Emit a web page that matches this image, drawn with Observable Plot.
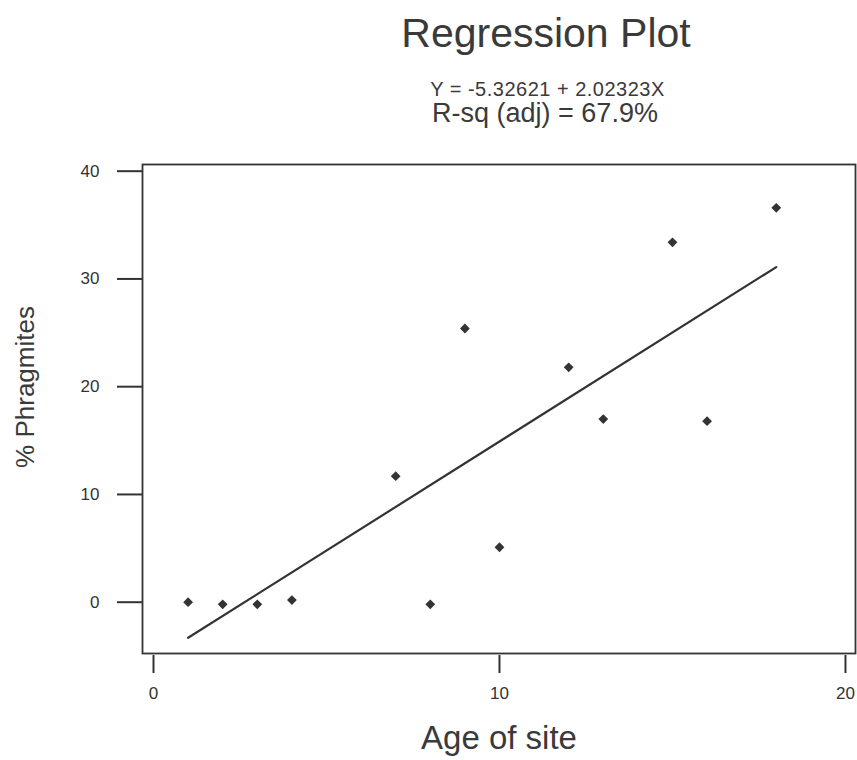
<!DOCTYPE html>
<html>
<head>
<meta charset="utf-8">
<script src="https://cdn.jsdelivr.net/npm/d3@7"></script>
<script src="https://cdn.jsdelivr.net/npm/@observablehq/plot@0.6"></script>
<style>
  html, body { margin: 0; padding: 0; background: #fff; }
  #wrap { position: relative; width: 857px; height: 760px; font-family: "Liberation Sans", Arial, Helvetica, sans-serif; color: #3a3a3a; overflow: hidden; }
  .t { position: absolute; left: 0; width: 1092px; text-align: center; line-height: 1; white-space: nowrap; }
  #chart { position: absolute; left: 0; top: 140px; }
</style>
</head>
<body>
<div id="wrap">
  <div class="t" style="top:13px; font-size:41px; width:1092px;">Regression Plot</div>
  <div class="t" style="top:79px; font-size:20px; width:1095px; letter-spacing:0.5px;">Y = -5.32621 + 2.02323X</div>
  <div class="t" style="top:100px; font-size:27px; width:1090px;">R-sq (adj) = 67.9%</div>
  <div id="chart"></div>
</div>
<script>
// Data
const age = [1, 2, 3, 4, 7, 8, 9, 10, 12, 13, 15, 16, 18];
const phragmites = [0, -0.2, -0.2, 0.2, 11.7, -0.2, 25.4, 5.1, 21.8, 17.0, 33.4, 16.8, 36.6];
// Fitted line Y = -5.32621 + 2.02323X, endpoints as drawn
const fitX = [1, 18];
const fitY = [-3.3, 31.1];
const xTicks = [0, 10, 20];
const yTicks = [0, 10, 20, 30, 40];
const xLabel = "Age of site";
const yLabel = "% Phragmites";

const points = age.map((a, i) => ({x: a, y: phragmites[i]}));
const fit = fitX.map((a, i) => ({x: a, y: fitY[i]}));
const ink = "#333";

const chart = Plot.plot({
  width: 857,
  height: 620,
  marginTop: 24,
  marginBottom: 107,
  marginLeft: 142,
  marginRight: 2,
  style: {fontFamily: "'Liberation Sans', Arial, sans-serif", fontSize: "17px", color: ink, background: "white"},
  x: {domain: [-0.318, 20.29]},
  y: {domain: [-4.76, 40.62]},
  marks: [
    Plot.frame({stroke: ink, strokeWidth: 1.8}),
    Plot.axisX({ticks: xTicks, tickSize: 18, tickPadding: 13, dy: 2, strokeWidth: 2, label: null, fontSize: 17}),
    Plot.axisY({ticks: yTicks, tickSize: 25, tickPadding: 18, strokeWidth: 2, label: null, fontSize: 17}),
    Plot.line(fit, {x: "x", y: "y", stroke: ink, strokeWidth: 2.2}),
    Plot.dot(points, {x: "x", y: "y", symbol: "square", r: 3.9, rotate: 45, fill: ink, stroke: "none"}),
    Plot.text([xLabel], {frameAnchor: "bottom", dy: 95, lineAnchor: "bottom", fontSize: 33, fill: "#3a3a3a"}),
    Plot.text([yLabel], {frameAnchor: "left", dx: -117, dy: -22, rotate: -90, textAnchor: "middle", lineAnchor: "middle", fontSize: 26, fill: "#3a3a3a"})
  ]
});
document.getElementById("chart").appendChild(chart);
</script>
</body>
</html>
